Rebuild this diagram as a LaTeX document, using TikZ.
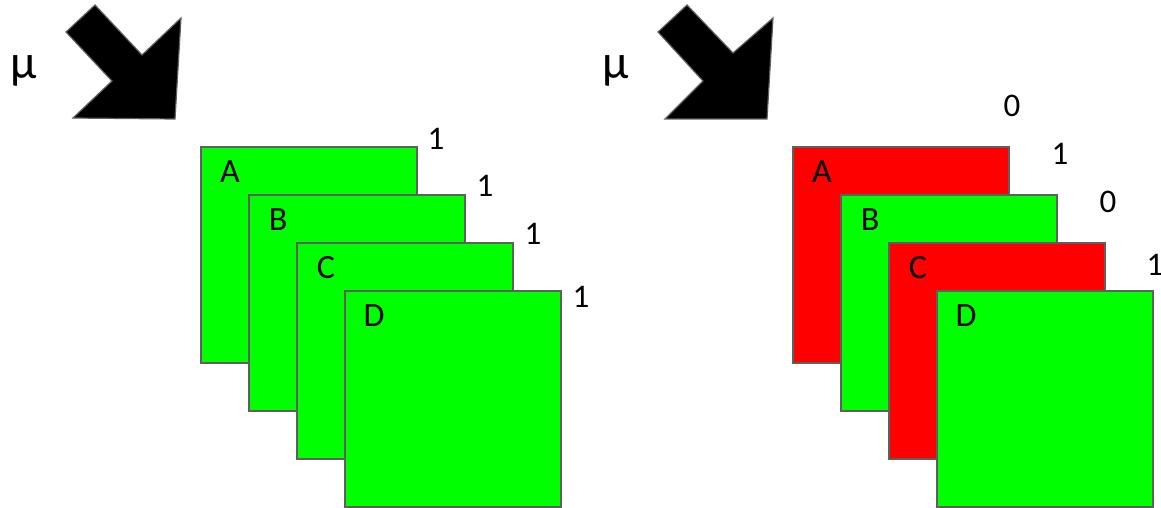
\documentclass[tikz,border=0pt]{standalone}
\usepackage{fontspec}
\setmainfont{Carlito}
\definecolor{cardgreen}{HTML}{00FF00}
\definecolor{cardred}{HTML}{FF0000}
\definecolor{edgegray}{HTML}{5F5F5F}
\begin{document}
\begin{tikzpicture}[x=1pt,y=-1pt,
  card/.style={draw=edgegray, line width=1.8pt, anchor=north west,
    minimum width=216pt, minimum height=216pt, inner sep=0pt, outer sep=0pt},
  cardlabel/.style={inner sep=0pt, font=\fontsize{34}{38}\selectfont},
  weight/.style={inner sep=0pt, font=\fontsize{33}{38}\selectfont},
  greek/.style={inner sep=0pt, font=\fontsize{48}{54}\selectfont},
  bigarrow/.style={fill=black, draw=edgegray, line width=1.2pt, line join=miter}]
\useasboundingbox (0,0) rectangle (1161,508);

% left stack: all cards on
\node[card, fill=cardgreen] (la) at (201,147) {};
\node[card, fill=cardgreen] (lb) at (249,195) {};
\node[card, fill=cardgreen] (lc) at (297,243) {};
\node[card, fill=cardgreen] (ld) at (345,291) {};
\node[cardlabel] (lat) at (230,172) {A};
\node[cardlabel] (lbt) at (278,220) {B};
\node[cardlabel] (lct) at (326,268) {C};
\node[cardlabel] (ldt) at (374,316) {D};
\node[weight] (lw1) at (436,139) {1};
\node[weight] (lw2) at (485,186) {1};
\node[weight] (lw3) at (533,234) {1};
\node[weight] (lw4) at (581,297) {1};
\node[greek] (lmu) at (24,71) {μ};
\draw[bigarrow] (95,5) -- (142,55) -- (181,18) -- (175,119) -- (73,118) -- (112,81) -- (66,32) -- cycle;

% right stack: A and C off
\node[card, fill=cardred]   (ra) at (793,147) {};
\node[card, fill=cardgreen] (rb) at (841,195) {};
\node[card, fill=cardred]   (rc) at (889,243) {};
\node[card, fill=cardgreen] (rd) at (937,291) {};
\node[cardlabel] (rat) at (822,172) {A};
\node[cardlabel] (rbt) at (870,220) {B};
\node[cardlabel] (rct) at (918,268) {C};
\node[cardlabel] (rdt) at (966,316) {D};
\node[weight] (rw1) at (1012,106) {0};
\node[weight] (rw2) at (1060,154) {1};
\node[weight] (rw3) at (1108,202) {0};
\node[weight] (rw4) at (1155,265) {1};
\node[greek] (rmu) at (616,71) {μ};
\draw[bigarrow] (687,5) -- (733,53) -- (773,18) -- (767,119) -- (665,119) -- (703,81) -- (658,32) -- cycle;
\end{tikzpicture}
\end{document}
